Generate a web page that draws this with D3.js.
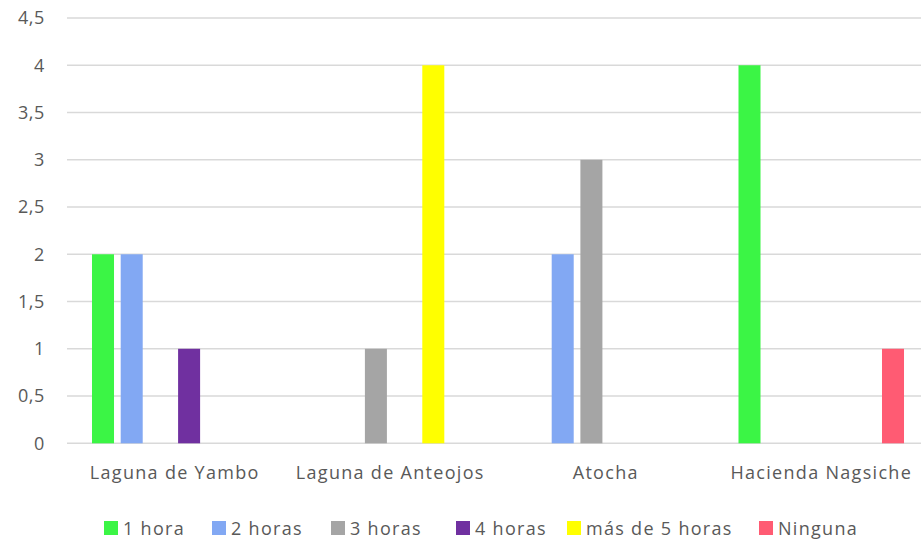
<!DOCTYPE html>
<html>
<head>
<meta charset="utf-8">
<script src="https://cdn.jsdelivr.net/npm/d3@7"></script>
<style>
  html, body { margin: 0; padding: 0; background: #fff; overflow: hidden; }
  svg { display: block; }
  text { font-family: "Open Sans", "Noto Sans", sans-serif; fill: #595959; }
</style>
</head>
<body>
<svg id="chart" width="921" height="543"></svg>
<script>
const categories = ["Laguna de Yambo", "Laguna de Anteojos", "Atocha", "Hacienda Nagsiche"];
const seriesNames = ["1 hora", "2 horas", "3 horas", "4 horas", "más de 5 horas", "Ninguna"];
const seriesColors = ["#3BF545", "#82A8F3", "#A5A5A5", "#7030A0", "#FFFF00", "#FF5B73"];
const s1hora   = [2, 0, 0, 4];
const s2horas  = [2, 0, 2, 0];
const s3horas  = [0, 1, 3, 0];
const s4horas  = [1, 0, 0, 0];
const s5mas    = [0, 4, 0, 0];
const sNinguna = [0, 0, 0, 1];
const seriesValues = [s1hora, s2horas, s3horas, s4horas, s5mas, sNinguna];
const yTicks = [0, 0.5, 1, 1.5, 2, 2.5, 3, 3.5, 4, 4.5];

const svg = d3.select("#chart");
const plotLeft = 67, plotRight = 929, plotTop = 18, plotBottom = 443.3;

const x = d3.scaleBand().domain(categories).range([plotLeft, plotRight]).padding(0);
const xi = d3.scaleBand().domain(seriesNames).range([0, x.bandwidth()])
  .paddingInner(0.233).paddingOuter(0.871);
const y = d3.scaleLinear().domain([0, 4.5]).range([plotBottom, plotTop]);

const fmt = v => String(v).replace(".", ",");

// gridlines
svg.append("g").selectAll("line").data(yTicks).join("line")
  .attr("x1", plotLeft).attr("x2", 921)
  .attr("y1", d => y(d)).attr("y2", d => y(d))
  .attr("stroke", "#d9d9d9").attr("stroke-width", 1.5);

// y axis labels
const yAxis = d3.axisLeft(y).tickValues(yTicks).tickFormat(fmt).tickSize(0).tickPadding(0);
const yg = svg.append("g").attr("transform", `translate(45,0)`).call(yAxis);
yg.select(".domain").remove();
yg.selectAll("text").attr("font-size", 18).attr("font-family", null)
  .attr("fill", "#595959").attr("style", "letter-spacing:0.6px");

// bars
const flat = [];
seriesNames.forEach((s, si) => categories.forEach((c, ci) => {
  if (seriesValues[si][ci] > 0) flat.push({ s, si, c, v: seriesValues[si][ci] });
}));
svg.append("g").selectAll("rect").data(flat).join("rect")
  .attr("x", d => x(d.c) + xi(d.s))
  .attr("width", xi.bandwidth())
  .attr("y", d => y(d.v))
  .attr("height", d => y(0) - y(d.v))
  .attr("fill", d => seriesColors[d.si]);

// x axis labels
const xAxis = d3.axisBottom(x).tickSize(0).tickPadding(0);
const xg = svg.append("g").attr("transform", `translate(0,479)`).call(xAxis);
xg.select(".domain").remove();
xg.selectAll("text").attr("font-size", 18).attr("font-family", null)
  .attr("fill", "#595959").attr("dy", 0).attr("style", "letter-spacing:1.3px");

// legend
const legendX = [104, 212, 331, 456, 567, 759];
const lg = svg.append("g");
const items = lg.selectAll("g").data(seriesNames).join("g")
  .attr("transform", (d, i) => `translate(${legendX[i]},521)`);
items.append("rect").attr("width", 14).attr("height", 14).attr("fill", (d, i) => seriesColors[i]);
items.append("text").attr("x", 19).attr("y", 13.5).attr("font-size", 18)
  .attr("style", "letter-spacing:1.3px").text(d => d);
</script>
</body>
</html>
